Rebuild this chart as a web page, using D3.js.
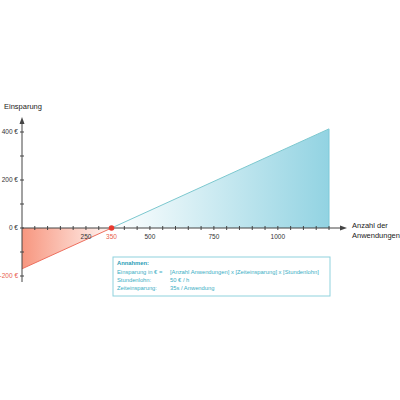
<!DOCTYPE html>
<html lang="de">
  <head>
    <meta charset="utf-8" />
    <script src="https://d3js.org/d3.v7.js"></script>
    <style>
      body { margin: 0; background: #fff; }
      text { font-family: "Liberation Sans", Arial, sans-serif; }
    </style>
  </head>
  <body>
    <script>
    // data
    var anwendungen = [0, 350, 1200];
    var einsparung = [-170, 0, 413];
    var xTickLabels = [250, 350, 500, 750, 1000];
    var yTickLabels = [-200, 0, 200, 400];
    var annahmen = [
      ["Einsparung in € =", "[Anzahl Anwendungen] x [Zeiteinsparung] x [Stundenlohn]"],
      ["Stundenlohn:", "50 € / h"],
      ["Zeiteinsparung:", "35s / Anwendung"]
    ];

    var w = 400, h = 400;
    var x = d3.scaleLinear().domain([0, 1200]).range([22, 329]);
    var y = d3.scaleLinear().domain([-200, 400]).range([276, 132]);

    var svg = d3.select("body").append("svg")
      .attr("width", w).attr("height", h);

    var defs = svg.append("defs");
    var gRed = defs.append("linearGradient").attr("id", "gRed")
      .attr("x1", "0%").attr("x2", "100%");
    gRed.append("stop").attr("offset", "0%").attr("stop-color", "#f7967f");
    gRed.append("stop").attr("offset", "100%").attr("stop-color", "#fff6f3");
    var gBlue = defs.append("linearGradient").attr("id", "gBlue")
      .attr("x1", "0%").attr("x2", "100%");
    gBlue.append("stop").attr("offset", "0%").attr("stop-color", "#ffffff");
    gBlue.append("stop").attr("offset", "100%").attr("stop-color", "#92d3e2");

    var area = d3.area().x(d => x(d[0])).y0(y(0)).y1(d => y(d[1]));
    var pts = anwendungen.map((a, i) => [a, einsparung[i]]);

    svg.append("path").datum(pts.slice(0, 2))
      .attr("d", area).attr("fill", "url(#gRed)");
    svg.append("path").datum(pts.slice(1))
      .attr("d", area).attr("fill", "url(#gBlue)");

    var line = d3.line().x(d => x(d[0])).y(d => y(d[1]));
    svg.append("path").datum(pts.slice(0, 2))
      .attr("d", line).attr("fill", "none").attr("stroke", "#ee6f5e").attr("stroke-width", 1);
    svg.append("path").datum(pts.slice(1))
      .attr("d", line).attr("fill", "none").attr("stroke", "#7cc8cf").attr("stroke-width", 1);

    // right edge of blue area
    svg.append("line")
      .attr("x1", x(1200)).attr("x2", x(1200))
      .attr("y1", y(0)).attr("y2", y(413))
      .attr("stroke", "#7cc8d8").attr("stroke-width", 1);

    // axes
    var axisColor = "#444";
    svg.append("line").attr("x1", x(0)).attr("x2", 342)
      .attr("y1", y(0)).attr("y2", y(0)).attr("stroke", axisColor);
    svg.append("path").attr("d", `M347,${y(0)} L340,${y(0) - 2.5} L340,${y(0) + 2.5} Z`).attr("fill", axisColor);
    svg.append("line").attr("x1", x(0)).attr("x2", x(0))
      .attr("y1", 282).attr("y2", 122).attr("stroke", axisColor);
    svg.append("path").attr("d", `M${x(0)},117 L${x(0) - 2.5},124 L${x(0) + 2.5},124 Z`).attr("fill", axisColor);

    // x ticks
    svg.selectAll(".xt").data(d3.range(50, 1201, 50)).join("line")
      .attr("x1", d => x(d)).attr("x2", d => x(d))
      .attr("y1", y(0) - 2).attr("y2", y(0) + 2)
      .attr("stroke", axisColor);
    svg.selectAll(".xl").data(xTickLabels).join("text")
      .attr("x", d => x(d)).attr("y", y(0) + 11)
      .attr("text-anchor", "middle").attr("font-size", 6.5)
      .attr("fill", d => d === 350 ? "#e8604e" : "#333")
      .text(d => d);

    // y ticks
    svg.selectAll(".yt").data(d3.range(-200, 401, 100)).join("line")
      .attr("x1", x(0) - 2).attr("x2", x(0) + 2)
      .attr("y1", d => y(d)).attr("y2", d => y(d))
      .attr("stroke", axisColor);
    svg.selectAll(".yl").data(yTickLabels).join("text")
      .attr("x", 18).attr("y", d => y(d) + 2.3)
      .attr("text-anchor", "end").attr("font-size", 6.5)
      .attr("fill", d => d < 0 ? "#e8604e" : "#333")
      .text(d => d + " €");

    // break-even point
    svg.append("circle").attr("cx", x(350)).attr("cy", y(0)).attr("r", 2.8).attr("fill", "#e83a30");

    // axis titles
    svg.append("text").attr("x", 4).attr("y", 109).attr("font-size", 7.5).attr("fill", "#222").text("Einsparung");
    svg.append("text").attr("x", 352).attr("y", 228).attr("font-size", 7.5).attr("fill", "#222").text("Anzahl der");
    svg.append("text").attr("x", 352).attr("y", 238).attr("font-size", 7.5).attr("fill", "#222").text("Anwendungen");

    // annotation box
    var box = svg.append("g").attr("transform", "translate(113,257)");
    box.append("rect").attr("width", 217).attr("height", 39)
      .attr("fill", "#fff").attr("stroke", "#8fd2dd").attr("stroke-width", 1);
    var teal = "#3aaec4";
    box.append("text").attr("x", 4).attr("y", 7.8).attr("font-size", 5.8)
      .attr("font-weight", "bold").attr("fill", "#2a9db5").text("Annahmen:");
    annahmen.forEach(function(r, i) {
      box.append("text").attr("x", 4).attr("y", 17 + i * 8.2).attr("font-size", 5.8)
        .attr("fill", teal).text(r[0]);
      box.append("text").attr("x", 57).attr("y", 17 + i * 8.2).attr("font-size", 5.8)
        .attr("fill", teal).text(r[1]);
    });
    </script>
  </body>
</html>
